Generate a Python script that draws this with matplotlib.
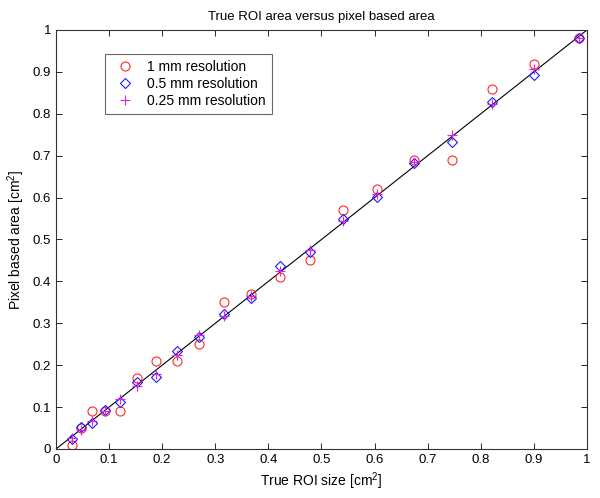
import numpy as np
import matplotlib
matplotlib.use("Agg")
import matplotlib.pyplot as plt

plt.rcParams['font.family'] = ['Liberation Sans', 'DejaVu Sans']
plt.rcParams['mathtext.fontset'] = 'custom'
plt.rcParams['mathtext.rm'] = 'Liberation Sans'

# true ROI size (cm^2)
true_area = [0.030, 0.047, 0.068, 0.093, 0.120, 0.153, 0.188, 0.227, 0.270, 0.317,
             0.367, 0.422, 0.478, 0.540, 0.605, 0.674, 0.746, 0.822, 0.901, 0.985]
# pixel based area per resolution
res_1mm = [0.01, 0.05, 0.09, 0.09, 0.09, 0.17, 0.21, 0.21, 0.25, 0.35,
           0.37, 0.41, 0.45, 0.57, 0.62, 0.69, 0.69, 0.86, 0.92, 0.98]
res_05mm = [0.023, 0.053, 0.063, 0.093, 0.111, 0.161, 0.172, 0.233, 0.267, 0.322,
            0.361, 0.437, 0.469, 0.549, 0.602, 0.682, 0.732, 0.829, 0.893, 0.980]
res_025mm = [0.026, 0.045, 0.066, 0.090, 0.119, 0.151, 0.180, 0.224, 0.271, 0.317,
             0.365, 0.425, 0.475, 0.543, 0.608, 0.686, 0.749, 0.823, 0.906, 0.982]

fig = plt.figure(figsize=(6, 4.98), dpi=100)
ax = fig.add_axes([0.0933, 0.0984, 0.885, 0.8414])

ax.plot([0, 1], [0, 1], color='black', lw=0.8, zorder=1)
ax.plot(true_area, res_1mm, 'o', mfc='none', mec='#ff2a2a', ms=6.5, mew=0.8,
        label='1 mm resolution')
ax.plot(true_area, res_05mm, 'D', mfc='none', mec='#1a1aff', ms=5.5, mew=0.8,
        label='0.5 mm resolution')
ax.plot(true_area, res_025mm, '+', color='#e020e0', ms=7, mew=0.8,
        label='0.25 mm resolution')

ax.set_xlim(0, 1)
ax.set_ylim(0, 1)
ticks = np.arange(0, 1.01, 0.1)
labels = ['0'] + ['%.1f' % t for t in ticks[1:-1]] + ['1']
ax.set_xticks(ticks)
ax.set_xticklabels(labels)
ax.set_yticks(ticks)
ax.set_yticklabels(labels)
ax.tick_params(direction='in', top=True, right=True, labelsize=9.5, length=4, width=0.6)
for s in ax.spines.values():
    s.set_linewidth(0.8)
    s.set_color('#333333')

ax.set_title('True ROI area versus pixel based area', fontsize=9.5, pad=7)
ax.set_xlabel('True ROI size [cm$^2$]', fontsize=10, labelpad=3)
ax.set_ylabel('Pixel based area [cm$^2$]', fontsize=10, labelpad=4)

leg = ax.legend(loc='upper left', bbox_to_anchor=(0.092, 0.943), borderaxespad=0,
                fontsize=10, frameon=True, fancybox=False, edgecolor='#444444',
                borderpad=0.45, handletextpad=0.6, labelspacing=0.2, handlelength=2.0)
leg.get_frame().set_linewidth(0.8)

fig.savefig('out.png', dpi=100)
